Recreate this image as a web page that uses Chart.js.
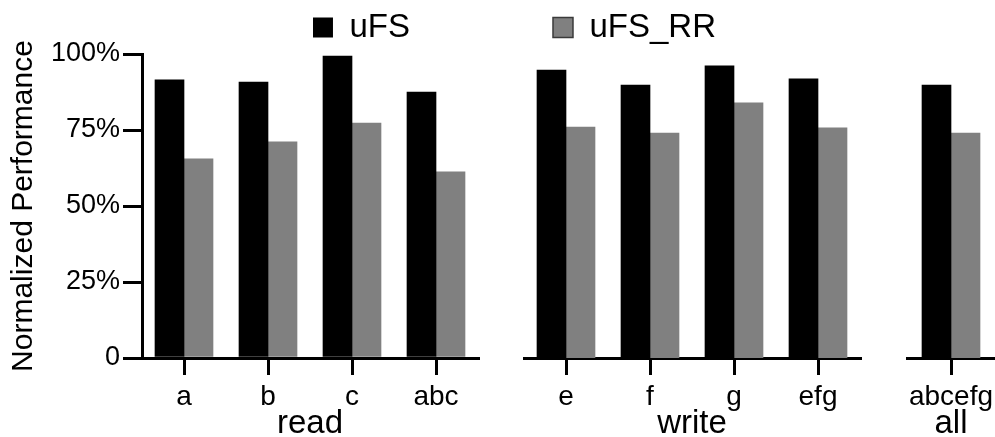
<!DOCTYPE html>
<html lang="en">
<head>
  <meta charset="UTF-8" />
  <title>Normalized Performance uFS vs uFS_RR</title>
  <script src="https://cdn.jsdelivr.net/npm/chart.js"></script>
  <style>
    body {
      margin: 0;
      background: #fff;
    }
    .wrap {
      position: relative;
      width: 995px;
      height: 437px;
    }
    .panel {
      position: absolute;
      top: 0;
      height: 437px;
    }
  </style>
</head>
<body>
<div class="wrap">
  <div class="panel" style="left:0; width:995px;"><canvas id="readChart"></canvas></div>
  <div class="panel" style="left:480px; width:420px;"><canvas id="writeChart"></canvas></div>
  <div class="panel" style="left:880px; width:115px;"><canvas id="allChart"></canvas></div>
</div>

<script>
// categories per group
const readLabels = ['a', 'b', 'c', 'abc'];
const writeLabels = ['e', 'f', 'g', 'efg'];
const allLabels = ['abcefg'];
const groupNames = ['read', 'write', 'all'];

// values in percent
const ufsRead = [91.5, 90.8, 99.3, 87.5];
const rrRead = [65.5, 71.1, 77.3, 61.2];
const ufsWrite = [94.7, 89.8, 96.1, 91.8];
const rrWrite = [76.0, 74.0, 83.9, 75.7];
const ufsAll = [89.8];
const rrAll = [74.0];

const yTicks = [0, 25, 50, 75, 100];

const FONT = "'Liberation Sans', Arial, Helvetica, sans-serif";
const BLACK = '#000000';
const GREY = '#808080';

Chart.defaults.color = '#000';
Chart.defaults.font.family = FONT;

// bottom axis of one panel
function panelAxis(labels, name, weight) {
  return {
    type: 'category',
    position: 'bottom',
    stack: 'panels',
    stackWeight: weight,
    weight: 1,
    labels: labels,
    offset: true,
    grid: {
      offset: false,
      drawOnChartArea: false,
      drawTicks: true,
      tickLength: 17,
      color: BLACK,
      lineWidth: 3
    },
    border: { display: true, color: BLACK, width: 3 },
    ticks: {
      padding: 5,
      maxRotation: 0,
      autoSkip: false,
      font: { size: 28, lineHeight: 1.2 }
    },
    title: {
      display: true,
      text: name,
      padding: { top: 0, bottom: 0 },
      font: { size: 33, lineHeight: 0.8 }
    },
    afterFit: s => {
      s.height = 79;
      s.paddingLeft = 0;
      s.paddingRight = 0;
    }
  };
}

function yAxis(show) {
  return {
    type: 'linear',
    position: 'left',
    display: show,
    min: yTicks[0],
    max: yTicks[yTicks.length - 1],
    afterBuildTicks: s => { s.ticks = yTicks.map(v => ({ value: v })); },
    grid: {
      drawOnChartArea: false,
      drawTicks: true,
      tickLength: 19,
      color: BLACK,
      lineWidth: 3
    },
    border: { display: true, color: BLACK, width: 3 },
    ticks: {
      padding: 3,
      font: { size: 27 },
      callback: v => (v === 0 ? '0' : v + '%')
    },
    title: {
      display: true,
      text: 'Normalized Performance',
      padding: { top: -28, bottom: 0 },
      font: { size: 30 }
    },
    afterFit: s => { if (show) s.width = 108; }
  };
}

function bars(label, data, color) {
  return {
    label: label,
    data: data,
    backgroundColor: color,
    borderWidth: 0,
    barThickness: 29
  };
}

const legendOpts = {
  position: 'top',
  labels: {
    boxWidth: 20,
    boxHeight: 20,
    padding: 143,
    font: { size: 33 },
    generateLabels: () => [
      { text: 'uFS', fillStyle: BLACK, strokeStyle: BLACK, lineWidth: 0, hidden: false, datasetIndex: 0 },
      { text: 'uFS_RR', fillStyle: GREY, strokeStyle: '#3a3a3a', lineWidth: 1.5, hidden: false, datasetIndex: 1 }
    ]
  },
  onClick: () => {}
};

function makePanel(canvasId, labels, ufs, rr, name, opts) {
  const scales = { x: panelAxis(labels, name, opts.width), y: yAxis(opts.showY) };
  if (opts.rest) {
    // empty room to the right so the legend can span the whole figure
    scales.rest = {
      type: 'linear', position: 'bottom', stack: 'panels', stackWeight: opts.rest,
      weight: 2, min: 0, max: 1, display: false
    };
  }
  return new Chart(document.getElementById(canvasId), {
    type: 'bar',
    data: {
      labels: labels,
      datasets: [bars('uFS', ufs, BLACK), bars('uFS_RR', rr, GREY)]
    },
    options: {
      responsive: true,
      maintainAspectRatio: false,
      animation: false,
      layout: { padding: opts.padding },
      plugins: {
        tooltip: { enabled: false },
        legend: opts.legend ? legendOpts : { display: false }
      },
      scales: scales
    }
  });
}

// read panel carries the y axis and the legend (legend box pushed up so only its items show)
makePanel('readChart', readLabels, ufsRead, rrRead, groupNames[0], {
  width: 336, rest: 517, showY: true, legend: true,
  padding: { top: -132, left: 34, right: 0, bottom: 0 }
});
makePanel('writeChart', writeLabels, ufsWrite, rrWrite, groupNames[1], {
  width: 336, showY: false, legend: false,
  padding: { top: 54, left: 44, right: 40, bottom: 0 }
});
makePanel('allChart', allLabels, ufsAll, rrAll, groupNames[2], {
  width: 88, showY: false, legend: false,
  padding: { top: 54, left: 27, right: 0, bottom: 0 }
});
</script>
</body>
</html>
